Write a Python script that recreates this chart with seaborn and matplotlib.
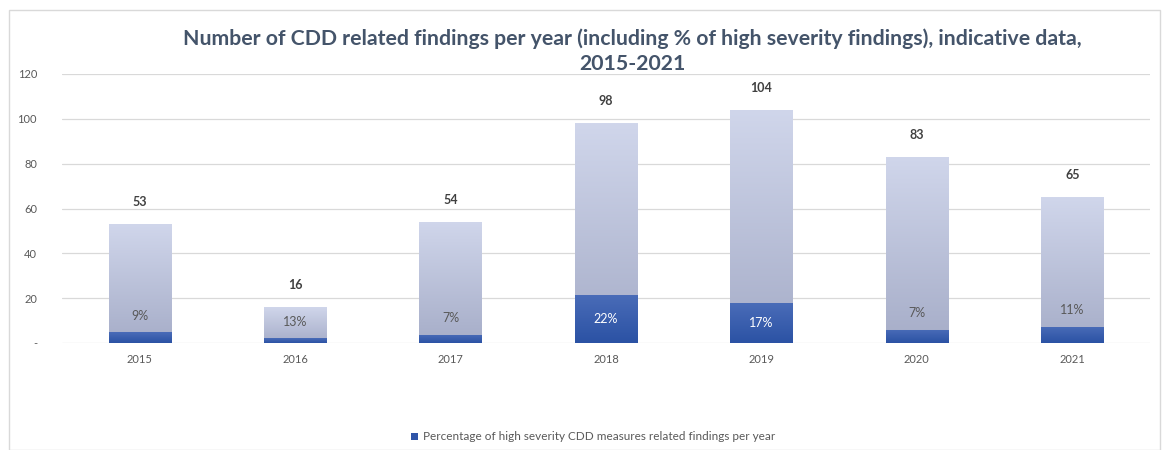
import numpy as np
import pandas as pd
import matplotlib
matplotlib.use("Agg")
import matplotlib.pyplot as plt
from matplotlib.colors import to_rgb
from matplotlib.patches import Rectangle
import seaborn as sns

# Data
years = ["2015", "2016", "2017", "2018", "2019", "2020", "2021"]
total_findings = [53, 16, 54, 98, 104, 83, 65]
high_severity_pct = [9, 13, 7, 22, 17, 7, 11]
y_tick_values = [0, 20, 40, 60, 80, 100, 120]
y_tick_labels = ["-", "20", "40", "60", "80", "100", "120"]

title = ("Number of CDD related findings per year (including % of high severity findings), "
         "indicative data,\n2015-2021")
legend_label = "Percentage of high severity CDD measures related findings per year"

df = pd.DataFrame({
    "year": years,
    "total": total_findings,
    "pct": high_severity_pct,
})
df["high"] = df["total"] * df["pct"] / 100.0

sns.set_theme(style="white")
plt.rcParams["font.family"] = ["Lato", "DejaVu Sans"]

fig = plt.figure(figsize=(11.67, 4.5), dpi=100)
ax = fig.add_axes([62 / 1167, 1 - 343 / 450, 1088 / 1167, 269 / 450])

light_top, light_bottom = "#d0d6eb", "#a6adc8"
dark_top, dark_bottom = "#4a6cb8", "#2b52a4"

sns.barplot(data=df, x="year", y="total", color=light_top, width=0.4,
            saturation=1, errorbar=None, ax=ax, zorder=2)
n_light = len(ax.patches)
sns.barplot(data=df, x="year", y="high", color=dark_bottom, width=0.4,
            saturation=1, errorbar=None, ax=ax, zorder=3)


def gradient_fill(patch, c_top, c_bottom, z):
    x0, y0 = patch.get_x(), patch.get_y()
    w, h = patch.get_width(), patch.get_height()
    t = np.linspace(0, 1, 128)[:, None]
    top, bot = np.array(to_rgb(c_top)), np.array(to_rgb(c_bottom))
    img = (top * (1 - t) + bot * t)[:, None, :]
    im = ax.imshow(img, extent=[x0, x0 + w, y0, y0 + h], aspect="auto",
                   origin="upper", zorder=z, interpolation="bilinear")
    im.set_clip_path(patch)
    patch.set_facecolor("none")
    patch.set_edgecolor("none")


light_patches = ax.patches[:n_light]
dark_patches = ax.patches[n_light:]
for p in light_patches:
    gradient_fill(p, light_top, light_bottom, 2)
for p in dark_patches:
    gradient_fill(p, dark_top, dark_bottom, 3)

ax.set_xlim(-0.5, len(years) - 0.5)
ax.set_ylim(0, 120)
ax.set_yticks(y_tick_values)
ax.set_yticklabels(y_tick_labels)
ax.set_xlabel("")
ax.set_ylabel("")
ax.grid(axis="y", color="#d9d9d9", linewidth=0.9)
ax.set_axisbelow(True)
for s in ax.spines.values():
    s.set_visible(False)
ax.tick_params(axis="y", length=0, pad=18, labelsize=8, labelcolor="#595959")
ax.tick_params(axis="x", length=0, pad=8, labelsize=8, labelcolor="#595959")
if ax.get_legend() is not None:
    ax.get_legend().remove()

# Value labels
for i, row in df.iterrows():
    ax.annotate(f"{row['total']:.0f}", (i, row["total"]), xytext=(0, 16),
                textcoords="offset points", ha="center", va="center",
                fontsize=9, fontweight="bold", color="#404040")
    if row["high"] >= 15:
        ax.text(i, row["high"] / 2, f"{row['pct']}%", ha="center", va="center",
                fontsize=9, color="white")
    else:
        ax.annotate(f"{row['pct']}%", (i, row["high"]), xytext=(0, 12),
                    textcoords="offset points", ha="center", va="center",
                    fontsize=9, color="#595959")

fig.text(0.542, 0.886, title, ha="center", va="center", fontsize=15.3,
         fontweight="bold", color="#44546a", linespacing=1.3)

leg = fig.legend(handles=[dark_patches[0]], labels=[legend_label],
                 loc="center", bbox_to_anchor=(0.508, 1 - 437 / 450),
                 frameon=False, fontsize=8.5, handlelength=0.6, handleheight=0.6,
                 handletextpad=0.4)
leg.legend_handles[0].set_facecolor("#2f55a8")
for t in leg.get_texts():
    t.set_color("#595959")

fig.patches.append(Rectangle((9 / 1167, 0), 1151 / 1167, 1 - 10 / 450,
                             transform=fig.transFigure, fill=False,
                             edgecolor="#d9d9d9", linewidth=1))

fig.savefig("out.png", dpi=100)
